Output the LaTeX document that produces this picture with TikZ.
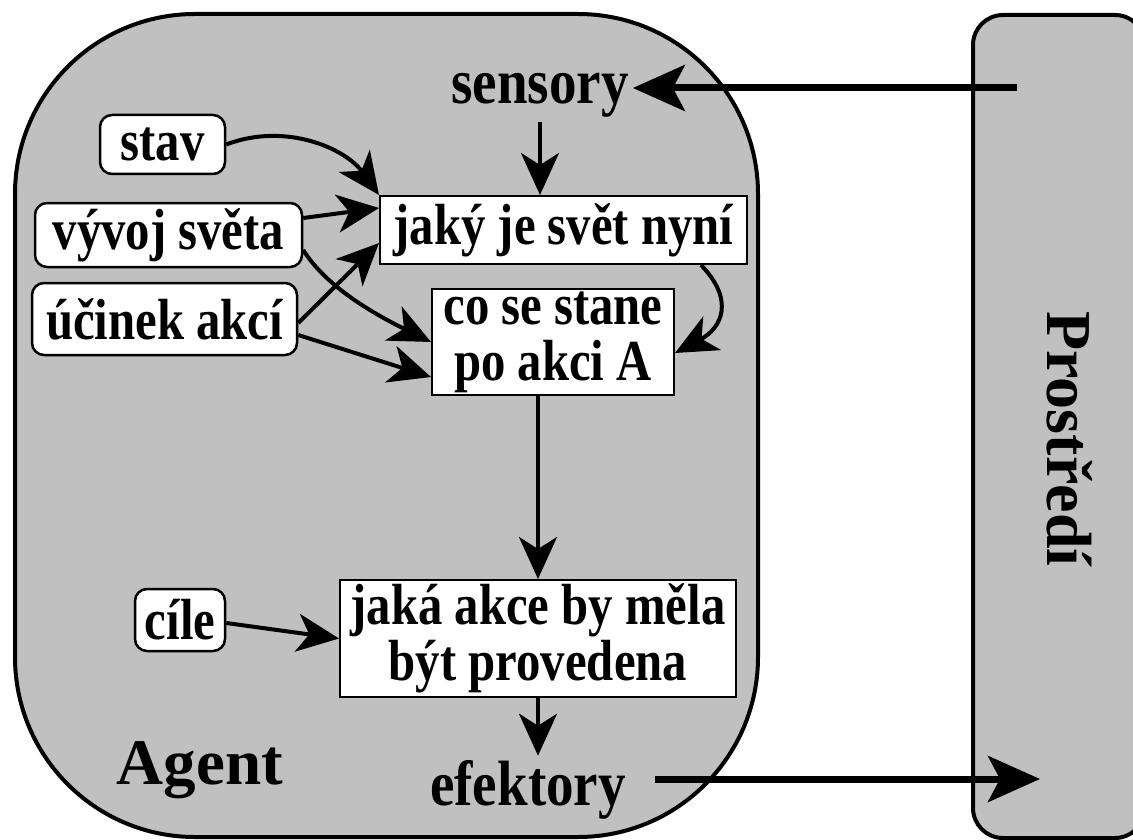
\documentclass[tikz,border=0pt]{standalone}
\usepackage{fontspec}
\setmainfont{Liberation Serif}
\newfontfamily\boxfont[FakeStretch=0.84]{Liberation Serif}
\newfontfamily\labfont[FakeStretch=0.86]{Liberation Serif}
\usetikzlibrary{arrows.meta}
\definecolor{panelgray}{RGB}{192,192,192}

\begin{document}
\begin{tikzpicture}[x=1pt,y=-1pt,
    box/.style={draw,fill=white,line width=2pt,inner sep=0pt,align=center,
      font=\boxfont\bfseries\fontsize{58}{56}\selectfont},
    rbox/.style={box,rounded corners=12pt,line width=2.5pt},
    lab/.style={inner sep=4pt,font=\labfont\bfseries\fontsize{64}{64}\selectfont},
    panel/.style={draw,fill=panelgray,line width=4pt,inner sep=0pt},
    arr/.style={line width=4pt,-{Stealth[length=42pt,width=38pt,inset=12pt]}},
    fatarr/.style={line width=7pt,-{Stealth[length=52pt,width=46pt,inset=12pt]}}]
  \useasboundingbox (0,0) rectangle (1133,840);
  \fill[white] (0,0) rectangle (1133,840);

  % agent and its surroundings
  \node[panel,rounded corners=180pt,minimum width=743pt,minimum height=823pt] (agent) at (386.5,425.5) {};
  \node[panel,rounded corners=30pt,minimum width=172pt,minimum height=823pt] (env) at (1059,426.5) {};
  \node[rotate=-90,font=\bfseries\fontsize{64}{64}\selectfont] (prostredi) at (1070,439) {Prostředí};
  \node[anchor=base,font=\bfseries\fontsize{65}{65}\selectfont] (agentlab) at (200,784) {Agent};

  \node[lab,anchor=base] (sensory) at (540,104) {sensory};
  \node[lab,anchor=base] (efektory) at (528,805) {efektory};

  \node[box,minimum width=367pt,minimum height=68pt] (jaky) at (563.5,230) {jaký je svět nyní};
  \node[box,minimum width=242pt,minimum height=106pt] (co) at (553,342) {co se stane\\po akci A};
  \node[box,minimum width=396pt,minimum height=117pt] (jaka) at (538,638.5) {jaká akce by měla\\být provedena};
  \node[rbox,minimum width=125pt,minimum height=59pt] (stav) at (162.5,144.5) {stav};
  \node[rbox,minimum width=267pt,minimum height=64pt] (vyvoj) at (168.5,235) {vývoj světa};
  \node[rbox,minimum width=265pt,minimum height=72pt] (ucinek) at (164.5,319) {účinek akcí};
  \node[rbox,minimum width=90pt,minimum height=62pt] (cile) at (180,620) {cíle};

  \draw[arr] (stav.east) .. controls (285,122) and (345,148) .. (jaky.north west);
  \draw[arr] ([yshift=17pt]vyvoj.east) -- ([yshift=22pt]jaky.west);
  \draw[arr] ([yshift=-15pt]vyvoj.east) .. controls (325,285) and (370,312) .. (co.west);
  \draw[arr] ([yshift=-4pt]ucinek.east) -- ([yshift=-13pt]jaky.west);
  \draw[arr] ([yshift=-16pt]ucinek.east) -- ([yshift=-35pt]co.west);
  \draw[arr] ([xshift=-47pt]jaky.south east) .. controls (735,300) and (722,328) .. ([yshift=-11pt]co.east);
  \draw[arr] (sensory.south) -- (sensory.south |- jaky.north);
  \draw[arr] (co.south -| jaka.north) -- (jaka.north);
  \draw[arr] ([yshift=-3pt]cile.east) -- (jaka.west);
  \draw[arr] (jaka.south) -- (jaka.south |- efektory.north);

  % to and from the environment
  \coordinate (envin) at (1017,88);
  \coordinate (efout) at (655,779);
  \coordinate (envtip) at (1040,779);
  \draw[fatarr] (envin) -- (sensory.east |- envin);
  \draw[fatarr] (efout) -- (envtip);
\end{tikzpicture}
\end{document}
